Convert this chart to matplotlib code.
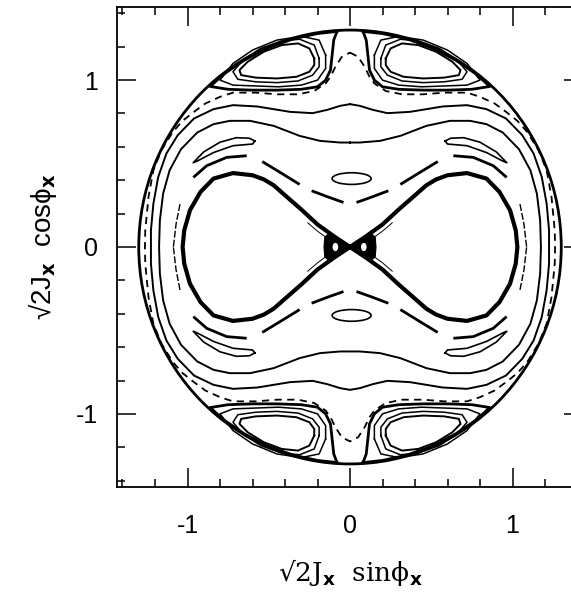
import numpy as np
import matplotlib
matplotlib.use("Agg")
import matplotlib.pyplot as plt
from matplotlib.patches import Circle, Ellipse, Polygon
from matplotlib.ticker import MultipleLocator

plt.rcParams["axes.unicode_minus"] = False

# ---- data (first quadrant, mirrored by symmetry) ----
boundary_radius = 1.30

# rings: quarter from the vertical axis (x=0) round to the horizontal axis (y=0)
ring_w1 = [(0.0, 0.856), (0.06, 0.846), (0.14, 0.822), (0.23, 0.802), (0.37, 0.81),
           (0.57, 0.842), (0.72, 0.85), (0.84, 0.826), (0.96, 0.77), (1.06, 0.67),
           (1.13, 0.56), (1.18, 0.42), (1.21, 0.26), (1.225, 0.1), (1.225, 0.0)]
ring_w2 = [(0.0, 0.626), (0.06, 0.626), (0.185, 0.636), (0.31, 0.666), (0.47, 0.726),
           (0.615, 0.756), (0.74, 0.756), (0.84, 0.736), (0.94, 0.686), (1.04, 0.586),
           (1.11, 0.46), (1.15, 0.32), (1.17, 0.16), (1.175, 0.0)]
ring_dashed = [(0.0, 1.165), (0.05, 1.14), (0.09, 1.08), (0.12, 1.02), (0.15, 0.98),
               (0.22, 0.935), (0.32, 0.915), (0.45, 0.915), (0.58, 0.925), (0.72, 0.925),
               (0.8, 0.9), (0.89, 0.86), (0.96, 0.81), (1.03, 0.756), (1.09, 0.69),
               (1.16, 0.58), (1.21, 0.46), (1.24, 0.3), (1.26, 0.1), (1.262, 0.0)]

# separatrix, right lobe, upper half: from the X point to the lobe tip
separatrix = [(0.0, 0.0), (0.1, 0.065), (0.2, 0.135), (0.3, 0.225), (0.4, 0.31),
              (0.47, 0.37), (0.53, 0.405), (0.6, 0.43), (0.72, 0.443), (0.84, 0.41),
              (0.92, 0.33), (0.985, 0.22), (1.02, 0.1), (1.03, 0.0)]
# thin strand next to the X point, and the dense chaotic core (right half)
separatrix_strand = [(0.13, 0.045), (0.2, 0.095), (0.26, 0.145)]
x_core = [(0.0, 0.008), (0.07, 0.05), (0.13, 0.08), (0.155, 0.06), (0.16, 0.0),
          (0.155, -0.06), (0.13, -0.08), (0.07, -0.05), (0.0, -0.008)]

# broken resonant orbit just outside the separatrix
chain_segments = [
    [(0.04, 0.267), (0.13, 0.298), (0.236, 0.337)],
    [(0.31, 0.375), (0.43, 0.447), (0.54, 0.512)],
    [(0.636, 0.547), (0.759, 0.537), (0.882, 0.487), (0.964, 0.417)],
]
side_arc = [(1.046, 0.257), (1.07, 0.14), (1.087, 0.0)]

# thin banana island (closed)
banana = [(0.585, 0.635), (0.62, 0.652), (0.7, 0.655), (0.8, 0.628), (0.9, 0.57),
          (0.965, 0.505), (0.94, 0.515), (0.84, 0.566), (0.72, 0.607), (0.6, 0.617),
          (0.585, 0.635)]

# top-right island of the 4-island chain, nested loops
island_loops = [
    [(0.22, 1.13), (0.25, 1.19), (0.32, 1.22), (0.42, 1.21), (0.53, 1.17), (0.63, 1.11),
     (0.68, 1.06), (0.67, 1.03), (0.58, 1.015), (0.45, 1.01), (0.33, 1.02), (0.25, 1.05),
     (0.22, 1.09), (0.22, 1.13)],
    [(0.19, 1.13), (0.22, 1.21), (0.31, 1.245), (0.42, 1.235), (0.55, 1.19), (0.66, 1.12),
     (0.72, 1.05), (0.69, 1.005), (0.58, 0.99), (0.45, 0.985), (0.32, 0.995), (0.23, 1.03),
     (0.19, 1.08), (0.19, 1.13)],
    [(0.15, 1.15), (0.19, 1.24), (0.3, 1.262), (0.45, 1.24), (0.6, 1.18), (0.72, 1.1),
     (0.8, 1.0), (0.72, 0.97), (0.58, 0.965), (0.44, 0.96), (0.3, 0.97), (0.2, 1.0),
     (0.15, 1.07), (0.15, 1.15)],
    [(0.08, 1.292), (0.2, 1.279), (0.35, 1.247), (0.5, 1.195), (0.65, 1.12), (0.78, 1.034),
     (0.86, 0.962), (0.75, 0.945), (0.6, 0.94), (0.45, 0.94), (0.3, 0.945), (0.2, 0.96),
     (0.15, 1.0), (0.12, 1.06), (0.11, 1.15), (0.1, 1.24), (0.08, 1.292)],
]
island_widths = [1.4, 1.1, 1.1, 2.0]

# small islands: (x, y, width, height)
small_islands = [(0.01, 0.41, 0.24, 0.07), (0.085, 0.0, 0.045, 0.06), (-0.09, 0.0, 0.045, 0.06)]

xlim = (-1.432, 1.432)
ylim = (-1.44, 1.44)


def quadrants(pts):
    p = np.asarray(pts, dtype=float)
    return [p * s for s in ([1, 1], [-1, 1], [1, -1], [-1, -1])]


def full_ring(quarter):
    q = np.asarray(quarter, dtype=float)
    return np.vstack([q, q[::-1] * [1, -1], q * [-1, -1], q[::-1] * [-1, 1], q[:1]])


def lobe(half):
    h = np.asarray(half, dtype=float)
    return np.vstack([h, h[::-1] * [1, -1]])


fig = plt.figure(figsize=(5.71, 5.92), dpi=100)
ax = fig.add_axes([117.3 / 571, 104.7 / 592, 465.4 / 571, 480.6 / 592])

k = "black"
ax.add_patch(Circle((0, 0), boundary_radius, fill=False, ec=k, lw=2.0))

for loop, w in zip(island_loops, island_widths):
    for p in quadrants(loop):
        ax.plot(p[:, 0], p[:, 1], color=k, lw=w)

for quarter, ls, w in [(ring_w1, "-", 1.4), (ring_w2, "-", 1.4),
                       (ring_dashed, (0, (4, 3)), 1.3)]:
    r = full_ring(quarter)
    ax.plot(r[:, 0], r[:, 1], color=k, lw=w, ls=ls)

for seg in chain_segments:
    for p in quadrants(seg):
        ax.plot(p[:, 0], p[:, 1], color=k, lw=2.0, solid_capstyle="butt")
for p in quadrants(side_arc):
    ax.plot(p[:, 0], p[:, 1], color=k, lw=1.0, ls=(0, (5, 1.5)))

for p in quadrants(banana):
    ax.plot(p[:, 0], p[:, 1], color=k, lw=1.2)

sep = lobe(separatrix)
for sx in (1, -1):
    ax.plot(sep[:, 0] * sx, sep[:, 1], color=k, lw=3.0)
for p in quadrants(separatrix_strand):
    ax.plot(p[:, 0], p[:, 1], color=k, lw=0.7)
core = np.asarray(x_core, dtype=float)
for sx in (1, -1):
    ax.add_patch(Polygon(core * [sx, 1], closed=True, fc=k, ec=k, lw=0.8))

for cx, cy, w, h in small_islands:
    for sy in ((1, -1) if cy else (1,)):
        ax.add_patch(Ellipse((cx, cy * sy), w, h, fc="white", ec=k, lw=1.2, zorder=3))

ax.set_xlim(*xlim)
ax.set_ylim(*ylim)
ax.xaxis.set_major_locator(MultipleLocator(1))
ax.yaxis.set_major_locator(MultipleLocator(1))
ax.xaxis.set_minor_locator(MultipleLocator(0.2))
ax.yaxis.set_minor_locator(MultipleLocator(0.2))
ax.tick_params(which="both", direction="in", top=True, right=True, width=1.1)
ax.tick_params(which="major", length=14, labelsize=18)
ax.tick_params(which="minor", length=6)
ax.tick_params(axis="x", pad=19)
ax.tick_params(axis="y", pad=14)
for lab in ax.get_xticklabels() + ax.get_yticklabels():
    lab.set_family("Liberation Sans")
for s in ax.spines.values():
    s.set_linewidth(1.3)

ax.set_xlabel("√2J$_\\mathbf{x}$  sinϕ$_\\mathbf{x}$", family="DejaVu Serif", fontsize=19, labelpad=14)
ax.set_ylabel("√2J$_\\mathbf{x}$  cosϕ$_\\mathbf{x}$", family="Liberation Sans", fontsize=20, labelpad=12)

fig.savefig("out.png", dpi=100)
